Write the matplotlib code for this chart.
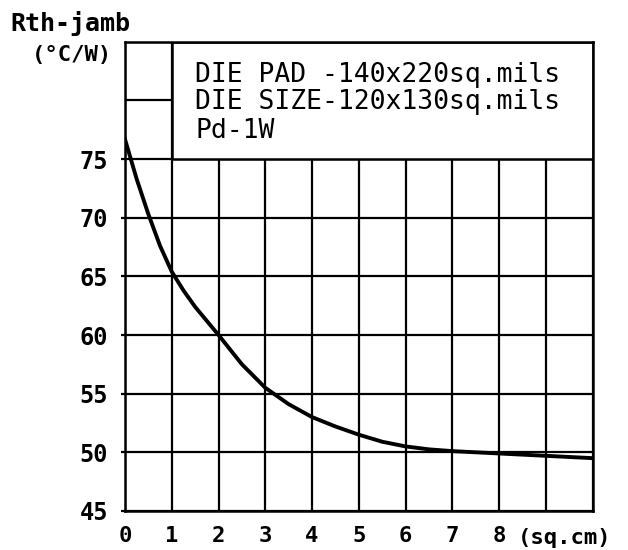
import matplotlib.pyplot as plt
from matplotlib.patches import Rectangle

# board area (sq.cm) vs thermal resistance junction-ambient (°C/W)
area = [0, 0.25, 0.5, 0.75, 1, 1.25, 1.5, 2, 2.5, 3, 3.5, 4, 4.5, 5, 5.5, 6, 6.5, 7, 8, 9, 10]
rth = [76.7, 73.3, 70.3, 67.6, 65.4, 63.8, 62.4, 60.0, 57.5, 55.5, 54.1, 53.0, 52.2, 51.5, 50.9, 50.5, 50.25, 50.1, 49.9, 49.7, 49.5]

x_ticks = [0, 1, 2, 3, 4, 5, 6, 7, 8]
y_ticks = [45, 50, 55, 60, 65, 70, 75]
notes = ["DIE PAD -140x220sq.mils", "DIE SIZE-120x130sq.mils", "Pd-1W"]

mono = "DejaVu Sans Mono"

fig = plt.figure(figsize=(6.28, 5.5), dpi=100)
ax = fig.add_axes([0.199, 0.071, 0.745, 0.853])

ax.set_xlim(0, 10)
ax.set_ylim(45, 85)

#grid every unit / every 5
for gx in range(0, 11):
    ax.axvline(gx, color="black", lw=1.6, zorder=1)
for gy in range(45, 86, 5):
    ax.axhline(gy, color="black", lw=1.6, zorder=1)

ax.plot(area, rth, color="black", lw=2.8, zorder=3, solid_joinstyle="round")

#note box over the top of the grid
ax.add_patch(Rectangle((1, 75), 9, 10, facecolor="white", edgecolor="black", lw=1.8, zorder=2))
for txt, ty in zip(notes, [82.2, 79.9, 77.4]):
    ax.text(1.5, ty, txt, fontsize=19, family=mono, va="center", ha="left", zorder=4)

ax.set_xticks(x_ticks)
ax.set_xticklabels([str(v) for v in x_ticks], fontsize=16, family=mono, fontweight="bold")
ax.set_yticks(y_ticks)
ax.set_yticklabels([str(v) for v in y_ticks], fontsize=17, family=mono, fontweight="bold")
ax.tick_params(axis="x", length=0, pad=11)
ax.tick_params(axis="y", length=3, width=1.6, pad=9)

for s in ax.spines.values():
    s.set_linewidth(1.8)

ax.text(8.4, 42.2, "(sq.cm)", fontsize=16, family=mono, fontweight="bold", ha="left", va="baseline")

fig.text(10 / 628, 1 - 23 / 550, "Rth-jamb", fontsize=18, family=mono, fontweight="bold", ha="left", va="center")
fig.text(112 / 628, 1 - 55 / 550, "(°C/W)", fontsize=16, family=mono, fontweight="bold", ha="right", va="center")

fig.savefig("out.png", dpi=100)
